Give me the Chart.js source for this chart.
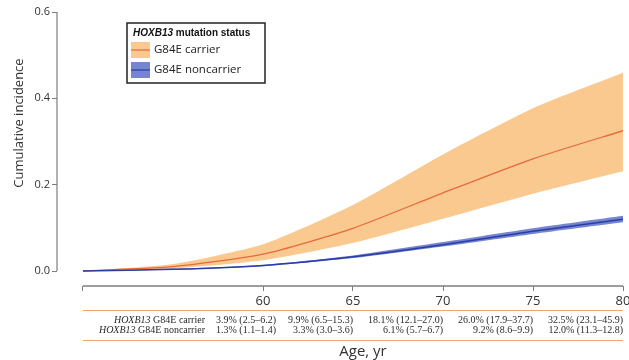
<!DOCTYPE html>
<html>
<head>
<meta charset="utf-8">
<script src="https://cdn.jsdelivr.net/npm/chart.js@4.4.0/dist/chart.umd.min.js"></script>
<style>
  html, body { margin: 0; padding: 0; background: #fff; }
  #wrap { width: 629px; height: 360px; position: relative; }
</style>
</head>
<body>
<div id="wrap"><canvas id="myChart"></canvas></div>
<script>
// cumulative incidence by age
var ages = [50, 55, 60, 65, 70, 75, 80];
var carrier = [0, 0.010, 0.039, 0.099, 0.181, 0.260, 0.325];
var carrierLo = [0, 0.006, 0.025, 0.065, 0.121, 0.179, 0.231];
var carrierHi = [0, 0.016, 0.062, 0.153, 0.270, 0.377, 0.459];
var noncarrier = [0, 0.004, 0.013, 0.033, 0.061, 0.092, 0.120];
var noncarrierLo = [0, 0.003, 0.011, 0.030, 0.057, 0.086, 0.113];
var noncarrierHi = [0, 0.005, 0.014, 0.036, 0.067, 0.099, 0.128];

var xTicks = [50, 60, 65, 70, 75, 80];
var yTicks = [0, 0.2, 0.4, 0.6];

// risk table under the axis
var tableAges = [60, 65, 70, 75, 80];
var carrierText = ['3.9% (2.5–6.2)', '9.9% (6.5–15.3)', '18.1% (12.1–27.0)', '26.0% (17.9–37.7)', '32.5% (23.1–45.9)'];
var noncarrierText = ['1.3% (1.1–1.4)', '3.3% (3.0–3.6)', '6.1% (5.7–6.7)', '9.2% (8.6–9.9)', '12.0% (11.3–12.8)'];
var rowLabels = ['G84E carrier', 'G84E noncarrier'];

var bandOrange = '#f9c98f';
var lineOrange = '#e8693a';
var bandBlue = '#7585d0';
var lineBlue = '#2a3da6';

function pts(vals) {
  return ages.map(function (a, i) { return { x: a, y: vals[i] }; });
}

function mixedText(ctx, parts, x, y, align) {
  // parts: [[text, font], ...]
  var total = 0;
  parts.forEach(function (p) { ctx.font = p[1]; total += ctx.measureText(p[0]).width; });
  var cx = align === 'right' ? x - total : x;
  ctx.textAlign = 'left';
  parts.forEach(function (p) {
    ctx.font = p[1];
    ctx.fillText(p[0], cx, y);
    cx += ctx.measureText(p[0]).width;
  });
}

var extras = {
  id: 'extras',
  afterDraw: function (chart) {
    var ctx = chart.ctx;
    var x = chart.scales.x, y = chart.scales.y;
    var x0 = x.getPixelForValue(ages[0]);
    var x1 = x.getPixelForValue(ages[ages.length - 1]);
    var base = x.top;
    ctx.save();

    // axis lines
    ctx.strokeStyle = '#7d7d7d';
    ctx.lineWidth = 1.5;
    ctx.beginPath();
    ctx.moveTo(x0, base);
    ctx.lineTo(x1, base);
    ctx.stroke();
    ctx.lineWidth = 1.2;
    ctx.beginPath();
    ctx.moveTo(y.right, y.getPixelForValue(0.6));
    ctx.lineTo(y.right, y.getPixelForValue(0));
    ctx.stroke();

    // table
    ctx.strokeStyle = '#f2a46e';
    ctx.lineWidth = 1;
    [24, 54].forEach(function (dy) {
      ctx.beginPath();
      ctx.moveTo(x0, base + dy + 0.5);
      ctx.lineTo(x1, base + dy + 0.5);
      ctx.stroke();
    });
    ctx.fillStyle = '#2a2a2a';
    ctx.textBaseline = 'middle';
    var rows = [carrierText, noncarrierText];
    rows.forEach(function (row, r) {
      var ty = base + 34 + r * 10;
      mixedText(ctx, [['HOXB13', 'italic 10px "Liberation Serif"'], [' ' + rowLabels[r], '10px "Liberation Serif"']], x0 + 122, ty, 'right');
      row.forEach(function (t, i) {
        var rx = x.getPixelForValue(tableAges[i]) + (i === 0 ? 13 : 0);
        ctx.font = '10px "Liberation Serif"';
        ctx.textAlign = 'right';
        ctx.fillText(t, rx, ty);
      });
    });

    // axis titles
    ctx.fillStyle = '#333';
    ctx.font = '15px "Open Sans"';
    ctx.textAlign = 'center';
    ctx.fillText('Age, yr', (x0 + x1) / 2 + 10, chart.height - 8);
    ctx.save();
    ctx.translate(19, 123);
    ctx.rotate(-Math.PI / 2);
    ctx.font = '13px "Open Sans"';
    ctx.fillText('Cumulative incidence', 0, 0);
    ctx.restore();

    // legend
    var lx = x0 + 44, ly = y.top + 11;
    ctx.strokeStyle = '#222';
    ctx.lineWidth = 1.5;
    ctx.strokeRect(lx, ly, 138, 60);
    ctx.fillStyle = '#111';
    mixedText(ctx, [['HOXB13', 'italic bold 10px "Liberation Sans"'], [' mutation status', 'bold 10px "Liberation Sans"']], lx + 6, ly + 10, 'left');
    var items = [[bandOrange, lineOrange, 'G84E carrier'], [bandBlue, lineBlue, 'G84E noncarrier']];
    items.forEach(function (it, i) {
      var sy = ly + 19 + i * 20;
      ctx.fillStyle = it[0];
      ctx.fillRect(lx + 4, sy, 19, 16);
      ctx.strokeStyle = it[1];
      ctx.lineWidth = 1.2;
      ctx.beginPath();
      ctx.moveTo(lx + 4, sy + 8);
      ctx.lineTo(lx + 23, sy + 8);
      ctx.stroke();
      ctx.fillStyle = '#222';
      ctx.font = '11.5px "Open Sans"';
      ctx.textAlign = 'left';
      ctx.fillText(it[2], lx + 27, sy + 8);
    });
    ctx.restore();
  }
};

var ctx = document.getElementById('myChart').getContext('2d');
var myChart = new Chart(ctx, {
  type: 'line',
  data: {
    datasets: [
      { label: 'carrier upper', data: pts(carrierHi), order: 4, borderWidth: 0, pointRadius: 0, backgroundColor: bandOrange, fill: '+1' },
      { label: 'carrier lower', data: pts(carrierLo), order: 4, borderWidth: 0, pointRadius: 0, fill: false },
      { label: 'G84E carrier', data: pts(carrier), order: 1, borderColor: lineOrange, borderWidth: 1.3, pointRadius: 0, fill: false },
      { label: 'noncarrier upper', data: pts(noncarrierHi), order: 3, borderWidth: 0, pointRadius: 0, backgroundColor: bandBlue, fill: '+1' },
      { label: 'noncarrier lower', data: pts(noncarrierLo), order: 3, borderWidth: 0, pointRadius: 0, fill: false },
      { label: 'G84E noncarrier', data: pts(noncarrier), order: 0, borderColor: lineBlue, borderWidth: 1.5, pointRadius: 0, fill: false }
    ]
  },
  options: {
    responsive: true,
    maintainAspectRatio: false,
    animation: false,
    elements: { line: { tension: 0.2 } },
    layout: { padding: { top: 12, right: 6, left: 0, bottom: 0 } },
    plugins: {
      legend: { display: false },
      tooltip: { enabled: false }
    },
    scales: {
      x: {
        type: 'linear',
        min: 50 - 26 / 18,
        max: 80,
        afterBuildTicks: function (s) { s.ticks = xTicks.map(function (v) { return { value: v }; }); },
        afterFit: function (s) { s.height = 74; s.paddingLeft = 0; s.paddingRight = 0; },
        border: { display: false },
        grid: { drawOnChartArea: false, tickLength: 5, color: '#7d7d7d', lineWidth: 1 },
        ticks: {
          padding: 2,
          color: '#333',
          font: { family: 'Open Sans', size: 13 },
          maxRotation: 0,
          callback: function (v) { return v === 50 ? '' : v; }
        }
      },
      y: {
        min: -15 / 431.7,
        max: 0.6,
        afterBuildTicks: function (s) { s.ticks = yTicks.map(function (v) { return { value: v }; }); },
        afterFit: function (s) { s.width = 57; },
        border: { display: false },
        grid: { drawOnChartArea: false, tickLength: 5, color: '#7d7d7d', lineWidth: 1 },
        ticks: {
          padding: 2,
          color: '#333',
          font: { family: 'Open Sans', size: 11 },
          callback: function (v) { return v.toFixed(1); }
        }
      }
    }
  },
  plugins: [extras]
});
</script>
</body>
</html>
